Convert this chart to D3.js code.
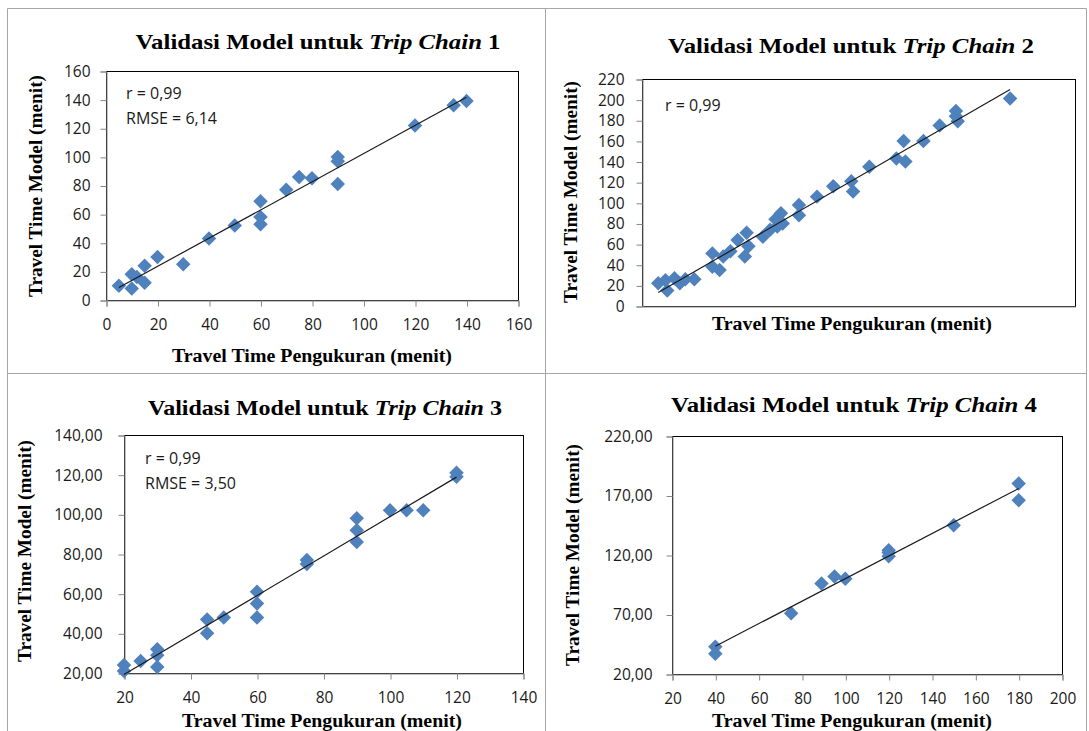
<!DOCTYPE html>
<html>
<head>
<meta charset="utf-8">
<script src="https://d3js.org/d3.v7.min.js"></script>
<style>
  html, body { margin: 0; padding: 0; background: #fff; }
  svg { display: block; }
</style>
</head>
<body>
<svg id="chart" width="1089" height="731"></svg>
<script>
// ---------- DATA ----------
const titlesPrefix = "Validasi Model untuk ";
const chainNames = ["Trip Chain", "Trip Chain", "Trip Chain", "Trip Chain"];
const chainNums = ["1", "2", "3", "4"];
const yTitle = "Travel Time Model (menit)";
const xTitle = "Travel Time Pengukuran (menit)";

// Trip Chain 1
const x1 = [5, 10, 10, 12, 15, 15, 20, 30, 40, 50, 60, 60, 60, 70, 75, 80, 90, 90, 90, 120, 135, 140];
const y1 = [10, 8, 18, 16, 24, 12, 30, 25, 43, 52, 69, 58, 53, 77, 86, 85, 100, 97, 81, 122, 136, 139];
const xTicks1 = [0, 20, 40, 60, 80, 100, 120, 140, 160];
const yTicks1 = [0, 20, 40, 60, 80, 100, 120, 140, 160];
const notes1 = ["r = 0,99", "RMSE = 6,14"];

// Trip Chain 2 (x axis has no labels)
const x2 = [9, 13, 14, 18, 21, 24, 29, 39, 39, 43, 45, 49, 53, 57, 58, 59, 67, 71, 74, 75, 77, 78, 87, 87, 97, 106, 116, 117, 126, 141, 145, 146, 156, 165, 174, 174, 175, 204];
const y2 = [22, 25, 15, 27, 22, 26, 26, 51, 38, 35, 48, 53, 64, 48, 71, 58, 67, 74, 84, 77, 90, 80, 98, 88, 106, 116, 121, 111, 135, 143, 160, 140, 160, 175, 189, 184, 179, 201];
const xDomain2 = [0, 240];
const yTicks2 = [0, 20, 40, 60, 80, 100, 120, 140, 160, 180, 200, 220];
const notes2 = ["r = 0,99"];

// Trip Chain 3
const x3 = [20, 20, 25, 30, 30, 30, 45, 45, 50, 60, 60, 60, 75, 75, 90, 90, 90, 100, 105, 110, 120, 120];
const y3 = [24, 21, 26, 32, 29, 23, 47, 40, 48, 61, 55, 48, 77, 75, 98, 92, 86, 102, 102, 102, 121, 119];
const xTicks3 = [20, 40, 60, 80, 100, 120, 140];
const yTicks3 = [20, 40, 60, 80, 100, 120, 140];
const notes3 = ["r = 0,99", "RMSE = 3,50"];

// Trip Chain 4
const x4 = [40, 40, 75, 89, 95, 100, 120, 120, 120, 150, 180, 180];
const y4 = [43, 37, 71, 96, 102, 100, 124, 119, 122, 145, 180, 166];
const xTicks4 = [20, 40, 60, 80, 100, 120, 140, 160, 180, 200];
const yTicks4 = [20, 70, 120, 170, 220];
const notes4 = [];

// ---------- DRAW ----------
const svg = d3.select("#chart");
const frameColor = "#a6a6a6";
const markerColor = "#4f81bd";
const serif = "'Liberation Serif', 'Times New Roman', serif";
const sans = "'Open Sans', 'Noto Sans', sans-serif";
const commaFmt = d => d3.format(".2f")(d).replace(".", ",");

// outer frame
const frame = svg.append("g").attr("fill", "none").attr("stroke", frameColor).attr("stroke-width", 1);
frame.append("line").attr("x1", 7.5).attr("x2", 7.5).attr("y1", 8.5).attr("y2", 731);
frame.append("line").attr("x1", 7.5).attr("x2", 1086.5).attr("y1", 8.5).attr("y2", 8.5);
frame.append("line").attr("x1", 1086.5).attr("x2", 1086.5).attr("y1", 8.5).attr("y2", 731);
frame.append("line").attr("x1", 545.5).attr("x2", 545.5).attr("y1", 8.5).attr("y2", 731);
frame.append("line").attr("x1", 7.5).attr("x2", 1086.5).attr("y1", 373.5).attr("y2", 373.5);

function panel(cfg) {
  const g = svg.append("g");
  const x = d3.scaleLinear().domain(cfg.xDomain).range([cfg.left, cfg.right]);
  const y = d3.scaleLinear().domain(cfg.yDomain).range([cfg.bottom, cfg.top]);

  // plot area border (top/right dark)
  g.append("rect")
    .attr("x", cfg.left + 0.5).attr("y", cfg.top + 0.5)
    .attr("width", cfg.right - cfg.left).attr("height", cfg.bottom - cfg.top)
    .attr("fill", "none").attr("stroke", "#000").attr("stroke-width", 1);

  // y axis
  const yAxis = d3.axisLeft(y).tickValues(cfg.yTicks).tickSize(6).tickPadding(cfg.yPad)
    .tickFormat(cfg.yFmt || (d => d));
  const ya = g.append("g").attr("transform", `translate(${cfg.left + 0.5},0.5)`).call(yAxis);
  ya.select(".domain").attr("stroke", "#868686");
  ya.selectAll(".tick line").attr("stroke", "#868686");
  ya.selectAll(".tick text").attr("font-family", sans).attr("font-size", "15.5px").attr("fill", "#1a1a1a");

  // x axis
  const xa = g.append("g").attr("transform", `translate(0.5,${cfg.bottom + 0.5})`);
  if (cfg.xTicks) {
    xa.call(d3.axisBottom(x).tickValues(cfg.xTicks).tickSize(6).tickPadding(cfg.xPad).tickFormat(d => d));
    xa.selectAll(".tick line").attr("stroke", "#868686");
    xa.selectAll(".tick text").attr("font-family", sans).attr("font-size", "15.5px").attr("fill", "#1a1a1a");
  } else {
    xa.call(d3.axisBottom(x).tickValues([]).tickSizeOuter(0));
  }
  xa.select(".domain").attr("stroke", "#868686");

  // trend line (least squares fit)
  const xs = cfg.xs, ys = cfg.ys;
  const mx = d3.mean(xs), my = d3.mean(ys);
  let sxy = 0, sxx = 0;
  xs.forEach((v, i) => { sxy += (v - mx) * (ys[i] - my); sxx += (v - mx) * (v - mx); });
  const b = sxy / sxx, a = my - b * mx;
  const [xmin, xmax] = d3.extent(xs);

  // markers
  const sym = d3.symbol().type(d3.symbolSquare).size(105);
  g.append("g").selectAll("path").data(xs.map((v, i) => [v, ys[i]])).join("path")
    .attr("d", sym)
    .attr("transform", d => `translate(${x(d[0])},${y(d[1])}) rotate(45)`)
    .attr("fill", markerColor);

  g.append("line")
    .attr("x1", x(xmin)).attr("y1", y(a + b * xmin))
    .attr("x2", x(xmax)).attr("y2", y(a + b * xmax))
    .attr("stroke", "#1a1a1a").attr("stroke-width", 1.2);

  // notes
  cfg.notes.forEach((t, i) => {
    g.append("text").attr("x", cfg.noteX).attr("y", cfg.noteY + i * 25)
      .attr("font-family", sans).attr("font-size", "16px").attr("fill", "#1a1a1a").text(t);
  });

  // title
  const tt = g.append("text").attr("x", cfg.titleX).attr("y", cfg.titleY)
    .attr("text-anchor", "middle").attr("font-family", serif).attr("font-weight", "bold")
    .attr("font-size", "22px").attr("fill", "#000")
    .attr("textLength", cfg.titleW).attr("lengthAdjust", "spacingAndGlyphs");
  tt.append("tspan").text(titlesPrefix);
  tt.append("tspan").attr("font-style", "italic").text(cfg.chain);
  tt.append("tspan").text(" " + cfg.num);

  // axis titles
  g.append("text").attr("x", cfg.xTitleX).attr("y", cfg.xTitleY).attr("text-anchor", "middle")
    .attr("font-family", serif).attr("font-weight", "bold").attr("font-size", "18px")
    .attr("textLength", 280).attr("lengthAdjust", "spacingAndGlyphs").text(xTitle);
  g.append("text").attr("transform", `translate(${cfg.yTitleX},${cfg.yTitleY}) rotate(-90)`)
    .attr("text-anchor", "middle").attr("font-family", serif).attr("font-weight", "bold")
    .attr("font-size", "18px").attr("textLength", 222).attr("lengthAdjust", "spacingAndGlyphs")
    .text(yTitle);
}

panel({
  xs: x1, ys: y1, xDomain: [0, 160], yDomain: [0, 160], xTicks: xTicks1, yTicks: yTicks1,
  left: 106, right: 518, top: 71, bottom: 300, yPad: 10, xPad: 12,
  notes: notes1, noteX: 126, noteY: 99,
  chain: chainNames[0], num: chainNums[0], titleX: 318, titleY: 49, titleW: 365,
  xTitleX: 312, xTitleY: 362, yTitleX: 42, yTitleY: 186
});

panel({
  xs: x2, ys: y2, xDomain: xDomain2, yDomain: [0, 220], xTicks: null, yTicks: yTicks2,
  left: 642, right: 1075, top: 79, bottom: 306, yPad: 12, xPad: 10,
  notes: notes2, noteX: 665, noteY: 111,
  chain: chainNames[1], num: chainNums[1], titleX: 851, titleY: 53, titleW: 366,
  xTitleX: 852, xTitleY: 330, yTitleX: 577, yTitleY: 192
});

panel({
  xs: x3, ys: y3, xDomain: [20, 140], yDomain: [20, 140], xTicks: xTicks3, yTicks: yTicks3, yFmt: commaFmt,
  left: 124, right: 523, top: 435, bottom: 673, yPad: 16, xPad: 12,
  notes: notes3, noteX: 145, noteY: 464,
  chain: chainNames[2], num: chainNums[2], titleX: 325, titleY: 415, titleW: 354,
  xTitleX: 322, xTitleY: 727, yTitleX: 31, yTitleY: 551
});

panel({
  xs: x4, ys: y4, xDomain: [20, 200], yDomain: [20, 220], xTicks: xTicks4, yTicks: yTicks4, yFmt: commaFmt,
  left: 672, right: 1062, top: 436, bottom: 674, yPad: 14, xPad: 12,
  notes: notes4, noteX: 0, noteY: 0,
  chain: chainNames[3], num: chainNums[3], titleX: 854, titleY: 412, titleW: 366,
  xTitleX: 852, xTitleY: 727, yTitleX: 579, yTitleY: 555
});
</script>
</body>
</html>
